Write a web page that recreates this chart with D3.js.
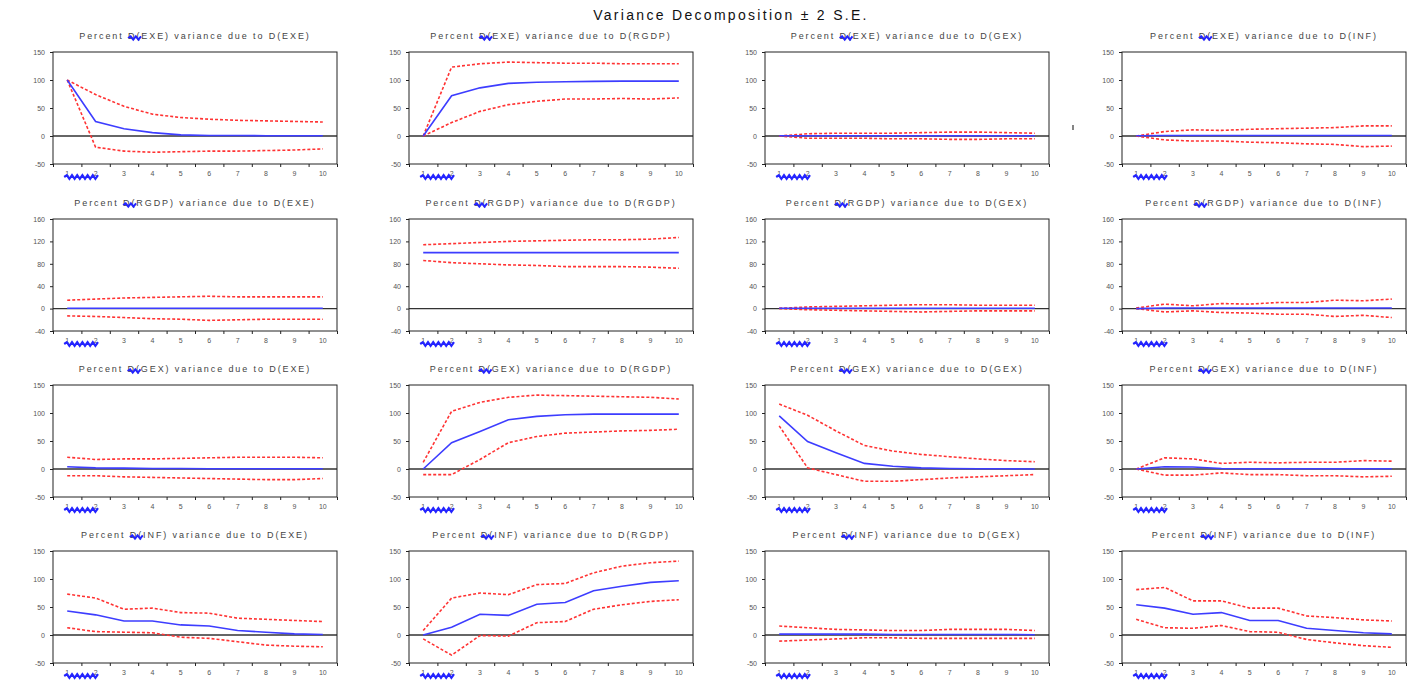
<!DOCTYPE html>
<html>
<head>
<meta charset="utf-8">
<script src="https://d3js.org/d3.v7.min.js"></script>
<style>
  body{margin:0;background:#fff;}
  svg text{font-family:"Liberation Sans",Arial,sans-serif;}
  .ptitle{font-size:9px;fill:#444;letter-spacing:1.9px;text-anchor:middle;}
  .tick text{font-size:7px;fill:#555;}
</style>
</head>
<body>
<div id="chart"></div>
<script>
// periods and names
var periods = [1,2,3,4,5,6,7,8,9,10];
var varNames = ["EXE","RGDP","GEX","INF"];
var yTicksA = [150,100,50,0,-50];
var yTicksB = [160,120,80,40,0,-40];

// D(EXE) row: mid / upper / lower, one array per shock column
var midEXE = [
  [100,26,13,6,2,1,1,0.5,0.5,0.5],
  [0,72,86,94,96,97,97.5,98,98,98],
  [0.5,0.5,0.5,0.5,0.5,0.5,0.5,0.5,0.5,0.5],
  [0.5,1,1,1,1,1,1,1,1,1]];
var hiEXE = [
  [100,74,53,39,33,30,28,27,26,25],
  [0,123,129,132,131,130,130,129,129,129],
  [0,4,5,5,5,6,7,7,6,5],
  [0,8,11,10,12,13,14,15,18,18]];
var loEXE = [
  [100,-20,-27,-29,-28,-27,-27,-26,-25,-23],
  [0,24,44,56,62,66,66,67,66,68],
  [0,-4,-4,-4,-5,-5,-6,-6,-5,-5],
  [0,-7,-9,-9,-11,-12,-14,-15,-19,-18]];

// D(RGDP) row
var midRGDP = [
  [0.5,0.5,0.5,0.5,0.5,0.5,0.5,0.5,0.5,0.5],
  [100,100,100,100,100,100,100,100,100,100],
  [0.5,0.5,0.5,0.5,0.5,0.5,0.5,0.5,0.5,0.5],
  [0,1,1,1,1,1,1,1,1,1]];
var hiRGDP = [
  [15,17,19,20,21,22,21,21,21,21],
  [114,116,118,120,121,122,123,123,124,127],
  [0.5,3,4,5,6,7,7,6,6,6],
  [1,8,5,9,8,11,11,15,14,17]];
var loRGDP = [
  [-13,-14,-16,-18,-19,-21,-20,-19,-19,-19],
  [86,82,80,78,77,75,75,75,74,72],
  [0,-2,-3,-4,-5,-6,-5,-4,-4,-4],
  [0,-6,-4,-7,-8,-10,-10,-14,-12,-16]];

// D(GEX) row
var midGEX = [
  [4,2,1.5,1,1,0.5,0.5,0.5,0.5,0.5],
  [0,47,67,88,94,97,98,98,98,98],
  [95,49,29,10,5,2,1,0.5,0.5,0],
  [0,4,3.5,1,0.5,0.5,0.5,0.5,0.5,0.5]];
var hiGEX = [
  [21,17,18,18,19,20,21,21,21,20],
  [12,103,119,128,132,131,130,129,128,125],
  [116,96,68,42,32,26,22,18,15,13],
  [0,20,18,10,12,11,12,12,15,14]];
var loGEX = [
  [-12,-12,-14,-15,-16,-17,-18,-19,-19,-17],
  [-10,-10,17,47,58,64,66,68,69,71],
  [77,2,-10,-22,-22,-19,-16,-14,-12,-10],
  [0,-11,-11,-7,-10,-10,-12,-12,-14,-13]];

// D(INF) row
var midINF = [
  [43,36,25,25,18,16,8,5,2,1],
  [0,14,37,35,55,58,79,87,94,97],
  [1.5,1.5,1.5,1.5,1,1,1,1,1,0.5],
  [54,48,37,40,26,26,12,8,4,2]];
var hiINF = [
  [73,66,46,48,40,39,30,28,26,24],
  [8,66,75,72,90,92,111,123,129,132],
  [16,13,10,9,8,8,10,10,10,8],
  [81,85,61,61,48,48,34,31,27,25]];
var loINF = [
  [13,6,5,4,-4,-6,-12,-18,-20,-21],
  [-7,-36,-1,-2,22,24,46,54,60,63],
  [-11,-9,-7,-5,-5,-6,-6,-6,-6,-6],
  [28,13,12,17,6,5,-8,-14,-19,-22]];

var mids = [midEXE, midRGDP, midGEX, midINF];
var his = [hiEXE, hiRGDP, hiGEX, hiINF];
var los = [loEXE, loRGDP, loGEX, loINF];

var W = 1412, H = 681;
var svg = d3.select("#chart").append("svg").attr("width", W).attr("height", H);

svg.append("text")
  .attr("x", 731).attr("y", 20)
  .attr("text-anchor", "middle")
  .style("font-size", "14px").style("letter-spacing", "2.3px").style("fill", "#111")
  .text("Variance Decomposition \u00b1 2 S.E.");

// stray mark between panels
svg.append("line").attr("x1", 1073).attr("x2", 1073).attr("y1", 125).attr("y2", 130)
  .style("stroke", "#333").style("stroke-width", 1.2);

var colLeft = [53, 409, 765, 1122];
var rowTop = [52, 219, 385, 551];
var pw = 284, ph = 112;

function squiggle(x0, x1, y, amp) {
  var p = d3.path(), step = 2.6, up = true;
  p.moveTo(x0, y);
  for (var x = x0 + step; x <= x1 + 0.01; x += step) {
    p.lineTo(x, y + (up ? -amp : amp));
    up = !up;
  }
  return p.toString();
}

varNames.forEach(function(rv, r) {
  varNames.forEach(function(cv, c) {
    var g = svg.append("g").attr("transform", "translate(" + colLeft[c] + "," + rowTop[r] + ")");
    var x = d3.scaleLinear().domain([0.5, 10.5]).range([0, pw]);
    var ticks = r == 1 ? yTicksB : yTicksA;
    var y = d3.scaleLinear().domain([ticks[ticks.length - 1], ticks[0]]).range([ph, 0]);

    // title with the blue mark over "D("
    var t = g.append("text").attr("class", "ptitle")
      .attr("x", pw / 2).attr("y", -13)
      .text("Percent D(" + rv + ") variance due to D(" + cv + ")");
    var full = t.node().getComputedTextLength();
    var pre = t.node().getSubStringLength(0, 8);
    var dw = t.node().getSubStringLength(8, 2);
    var sx = pw / 2 - full / 2 + pre;
    g.append("path").attr("d", squiggle(sx, sx + dw, -14, 1.6))
      .style("fill", "none").style("stroke", "#2424ff").style("stroke-width", 2);

    // axes
    var ya = d3.axisLeft(y).tickValues(ticks).tickSize(3).tickPadding(5)
      .tickFormat(function(d) { return String(d); });
    g.append("g").call(ya).call(function(s) {
      s.select(".domain").remove();
      s.selectAll("line").style("stroke", "#222");
    });
    var xa = d3.axisBottom(x).tickValues(d3.range(0.5, 10.6, 1)).tickSize(3).tickFormat("");
    g.append("g").attr("transform", "translate(0," + ph + ")").call(xa).call(function(s) {
      s.select(".domain").remove();
      s.selectAll("line").style("stroke", "#222");
    });
    g.append("g").selectAll("text").data(periods).enter().append("text")
      .attr("x", function(d) { return x(d); }).attr("y", ph + 12)
      .attr("text-anchor", "middle")
      .style("font-size", "7px").style("fill", "#555")
      .text(function(d) { return d; });
    g.append("path").attr("d", squiggle(x(1) - 3, x(2) + 3, ph + 13, 1.8))
      .style("fill", "none").style("stroke", "#2424ff").style("stroke-width", 2.2);

    // zero line
    g.append("line").attr("x1", 0).attr("x2", pw).attr("y1", y(0)).attr("y2", y(0))
      .style("stroke", "#333").style("stroke-width", 1.3);

    var line = d3.line().x(function(d, i) { return x(periods[i]); }).y(function(d) { return y(d); });
    [his[r][c], los[r][c]].forEach(function(band) {
      g.append("path").datum(band).attr("d", line)
        .style("fill", "none").style("stroke", "#ff3333").style("stroke-width", 1.6)
        .style("stroke-dasharray", "3,2");
    });
    g.append("path").datum(mids[r][c]).attr("d", line)
      .style("fill", "none").style("stroke", "#3d3dff").style("stroke-width", 1.6);

    g.append("rect").attr("width", pw).attr("height", ph)
      .style("fill", "none").style("stroke", "#222").style("stroke-width", 1);
  });
});
</script>
</body>
</html>
